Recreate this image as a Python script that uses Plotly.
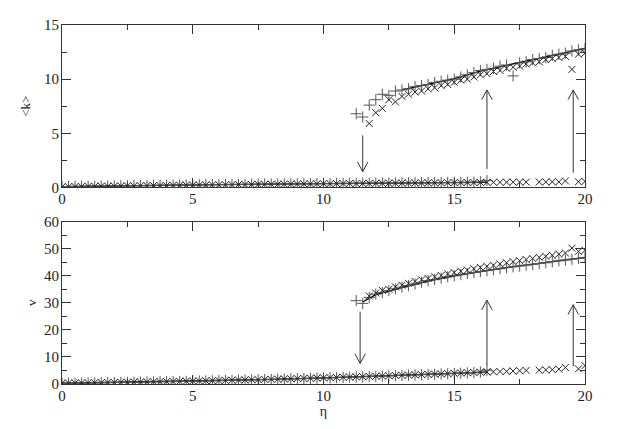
import plotly.graph_objects as go

# ---------------- data ----------------
ETA_LOW = [0.0, 0.25, 0.5, 0.75, 1.0, 1.25, 1.5, 1.75, 2.0, 2.25,
           2.5, 2.75, 3.0, 3.25, 3.5, 3.75, 4.0, 4.25, 4.5, 4.75,
           5.0, 5.25, 5.5, 5.75, 6.0, 6.25, 6.5, 6.75, 7.0, 7.25,
           7.5, 7.75, 8.0, 8.25, 8.5, 8.75, 9.0, 9.25, 9.5, 9.75,
           10.0, 10.25, 10.5, 10.75, 11.0, 11.25, 11.5, 11.75, 12.0, 12.25,
           12.5, 12.75, 13.0, 13.25, 13.5, 13.75, 14.0, 14.25, 14.5, 14.75,
           15.0, 15.25, 15.5, 15.75, 16.0, 16.25]
ETA_X_TAIL = [16.5, 16.75, 17.0, 17.25, 17.5, 17.75, 18.25, 18.5, 18.75, 19.0, 19.25, 19.75, 20.0]
ETA_UP_PLUS = [11.25, 11.5, 11.75, 12.0, 12.25, 12.5, 12.75, 13.0, 13.25, 13.5, 13.75, 14.0,
               14.25, 14.5, 14.75, 15.0, 15.25, 15.5, 15.75, 16.0, 16.25, 16.5, 16.75, 17.0,
               17.25, 17.5, 17.75, 18.0, 18.25, 18.5, 18.75, 19.0, 19.25, 19.5, 19.75, 20.0]
ETA_UP_X = [11.75, 12.0, 12.25, 12.5, 12.75, 13.0, 13.25, 13.5, 13.75, 14.0,
            14.25, 14.5, 14.75, 15.0, 15.25, 15.5, 15.75, 16.0, 16.25, 16.5, 16.75, 17.0,
            17.25, 17.5, 17.75, 18.0, 18.25, 18.5, 18.75, 19.0, 19.25, 19.5, 19.75, 20.0]
ETA_LINE_LOW = [0, 2, 4, 6, 8, 10, 12, 14, 16.25]
ETA_LINE_UP_K = [13, 14, 15, 16, 17, 18, 19, 20]
ETA_LINE_UP_V = [11.5, 12, 13, 14, 15, 16, 17, 18, 19, 20]

# <k> (top panel)
K_LOW_X = [0.05, 0.06, 0.07, 0.08, 0.09, 0.10, 0.10, 0.11, 0.12, 0.13,
           0.14, 0.14, 0.15, 0.16, 0.17, 0.17, 0.18, 0.19, 0.20, 0.20,
           0.21, 0.22, 0.22, 0.23, 0.24, 0.24, 0.25, 0.26, 0.26, 0.27,
           0.28, 0.28, 0.29, 0.29, 0.30, 0.31, 0.31, 0.32, 0.32, 0.33,
           0.34, 0.34, 0.35, 0.35, 0.36, 0.36, 0.37, 0.37, 0.38, 0.38,
           0.39, 0.39, 0.40, 0.40, 0.41, 0.41, 0.42, 0.42, 0.43, 0.43,
           0.44, 0.44, 0.45, 0.45, 0.46, 0.46]
K_LOW_PLUS = [0.07, 0.08, 0.09, 0.10, 0.11, 0.12, 0.12, 0.13, 0.14, 0.15,
              0.16, 0.16, 0.17, 0.18, 0.19, 0.19, 0.20, 0.21, 0.22, 0.22,
              0.23, 0.24, 0.24, 0.25, 0.26, 0.26, 0.27, 0.28, 0.28, 0.29,
              0.30, 0.30, 0.31, 0.31, 0.32, 0.33, 0.33, 0.34, 0.34, 0.35,
              0.36, 0.36, 0.37, 0.37, 0.38, 0.38, 0.39, 0.39, 0.40, 0.40,
              0.41, 0.41, 0.42, 0.42, 0.43, 0.43, 0.44, 0.44, 0.45, 0.45,
              0.46, 0.46, 0.47, 0.48, 0.50, 0.62]
K_X_TAIL = [0.47, 0.47, 0.48, 0.48, 0.49, 0.49, 0.50, 0.50, 0.51, 0.51, 0.60, 0.52, 0.55]
K_UP_PLUS = [6.8, 6.5, 7.6, 8.1, 8.6, 8.5, 8.9, 9.0, 9.1, 9.3, 9.4, 9.5,
             9.7, 9.8, 9.9, 10.0, 10.2, 10.4, 10.6, 10.8, 10.9, 11.0, 11.2, 11.3,
             10.3, 11.5, 11.6, 11.8, 11.9, 12.0, 12.2, 12.3, 12.4, 12.6, 12.7, 12.8]
K_UP_X = [5.9, 6.9, 7.3, 8.1, 7.9, 8.4, 8.6, 8.8, 8.9, 9.1,
          9.2, 9.4, 9.5, 9.7, 9.9, 10.0, 10.2, 10.4, 10.5, 10.7, 10.8, 11.0,
          11.1, 11.2, 11.4, 11.5, 11.6, 11.8, 11.9, 12.0, 12.1, 10.9, 12.3, 12.4]
K_LINE_LOW = [0.06, 0.14, 0.19, 0.25, 0.30, 0.35, 0.39, 0.43, 0.47]
K_LINE_UP = [9.0, 9.5, 10.05, 10.75, 11.3, 11.8, 12.3, 12.85]

# v (bottom panel)
V_LOW_X = [0.30, 0.33, 0.36, 0.40, 0.43, 0.47, 0.50, 0.54, 0.57, 0.61,
           0.65, 0.69, 0.73, 0.77, 0.81, 0.85, 0.89, 0.94, 0.98, 1.03,
           1.08, 1.13, 1.18, 1.23, 1.28, 1.34, 1.39, 1.45, 1.50, 1.56,
           1.62, 1.68, 1.74, 1.80, 1.86, 1.93, 2.00, 2.06, 2.13, 2.20,
           2.27, 2.34, 2.41, 2.49, 2.56, 2.64, 2.72, 2.80, 2.88, 2.96,
           3.04, 3.13, 3.21, 3.30, 3.39, 3.48, 3.57, 3.66, 3.76, 3.85,
           3.95, 4.05, 4.15, 4.25, 4.36, 4.46]
V_LOW_PLUS = [0.25, 0.28, 0.31, 0.35, 0.38, 0.42, 0.45, 0.49, 0.52, 0.56,
              0.60, 0.64, 0.68, 0.72, 0.76, 0.80, 0.84, 0.89, 0.93, 0.98,
              1.03, 1.08, 1.13, 1.18, 1.23, 1.29, 1.34, 1.40, 1.45, 1.51,
              1.57, 1.63, 1.69, 1.75, 1.81, 1.88, 1.95, 2.01, 2.08, 2.15,
              2.22, 2.29, 2.36, 2.44, 2.51, 2.59, 2.67, 2.75, 2.83, 2.91,
              2.99, 3.08, 3.16, 3.25, 3.34, 3.43, 3.52, 3.61, 3.71, 3.80,
              3.90, 4.00, 4.10, 4.20, 4.40, 5.10]
V_X_TAIL = [4.5, 4.6, 4.7, 4.8, 4.9, 5.0, 5.1, 5.2, 5.3, 5.5, 6.1, 5.6, 6.8]
V_UP_PLUS = [30.8, 29.8, 32.0, 33.2, 33.8, 34.5, 35.2, 35.8, 36.4, 37.0, 37.6, 38.2,
             38.6, 39.1, 39.6, 40.0, 40.4, 40.8, 41.2, 41.6, 41.9, 42.3, 42.6, 43.0,
             43.3, 43.6, 43.9, 44.2, 44.5, 44.8, 45.2, 45.5, 45.8, 46.1, 46.4, 46.7]
V_UP_X = [32.5, 33.6, 34.6, 35.0, 35.9, 36.5, 37.2, 37.9, 38.5, 39.0,
          39.6, 40.1, 40.7, 41.2, 41.7, 42.1, 42.6, 43.1, 43.5, 43.9, 44.4, 44.8,
          45.2, 45.6, 46.0, 46.4, 46.8, 47.2, 47.6, 48.0, 48.4, 50.2, 49.0, 49.4]
V_LINE_LOW = [0.28, 0.62, 0.92, 1.30, 1.74, 2.25, 2.85, 3.55, 4.40]
V_LINE_UP = [30.3, 33.0, 35.6, 38.0, 40.0, 41.6, 43.0, 44.3, 45.6, 46.8]

# arrows: (eta, start, tip)
ARROWS_K = [(11.5, 4.8, 1.45), (16.25, 1.7, 9.0), (19.55, 1.35, 9.0)]
ARROWS_V = [(11.4, 26.7, 7.6), (16.25, 6.9, 31.0), (19.55, 6.5, 29.3)]

X_TICKS = [0, 5, 10, 15, 20]
K_TICKS = [0, 5, 10, 15]
V_TICKS = [0, 10, 20, 30, 40, 50, 60]

# ---------------- figure ----------------
FONT = "Liberation Serif, Times New Roman, serif"
fig = go.Figure()

plus_style = dict(symbol="cross-thin-open", size=8, line=dict(width=1, color="#555555"), color="#555555")
x_style = dict(symbol="x-thin-open", size=7, line=dict(width=1, color="#222222"), color="#222222")


def add_panel(yaxis, low_plus, low_x, x_tail, up_plus, up_x, eta_line_up, line_low, line_up, arrows, head_dy):
    xa = "x" if yaxis == "y" else "x2"
    kw = dict(xaxis=xa, yaxis=yaxis, showlegend=False, hoverinfo="skip")
    fig.add_trace(go.Scatter(x=ETA_LINE_LOW, y=line_low, mode="lines",
                             line=dict(color="black", width=1.3), **kw))
    fig.add_trace(go.Scatter(x=eta_line_up, y=line_up, mode="lines",
                             line=dict(color="black", width=1.3), **kw))
    fig.add_trace(go.Scatter(x=ETA_LOW, y=low_plus, mode="markers", marker=plus_style, **kw))
    fig.add_trace(go.Scatter(x=ETA_UP_PLUS, y=up_plus, mode="markers", marker=plus_style, **kw))
    fig.add_trace(go.Scatter(x=ETA_LOW + ETA_X_TAIL, y=low_x + x_tail, mode="markers", marker=x_style, **kw))
    fig.add_trace(go.Scatter(x=ETA_UP_X, y=up_x, mode="markers", marker=x_style, **kw))
    dx = 0.2
    for eta, y0, y1 in arrows:
        d = head_dy if y1 > y0 else -head_dy
        fig.add_trace(go.Scatter(x=[eta, eta, None, eta - dx, eta, eta + dx],
                                 y=[y0, y1, None, y1 - d, y1, y1 - d],
                                 mode="lines", line=dict(color="#333333", width=1), **kw))


add_panel("y", K_LOW_PLUS, K_LOW_X, K_X_TAIL, K_UP_PLUS, K_UP_X, ETA_LINE_UP_K,
          K_LINE_LOW, K_LINE_UP, ARROWS_K, 0.9)
add_panel("y2", V_LOW_PLUS, V_LOW_X, V_X_TAIL, V_UP_PLUS, V_UP_X, ETA_LINE_UP_V,
          V_LINE_LOW, V_LINE_UP, ARROWS_V, 3.6)

tickfont = dict(family=FONT, size=15, color="#222222")
axis_common = dict(showline=True, linecolor="#333333", linewidth=1, mirror="ticks",
                   ticks="inside", ticklen=9, tickcolor="#333333", tickwidth=1,
                   showgrid=False, zeroline=False, tickfont=tickfont)

fig.update_layout(
    width=623, height=429,
    margin=dict(l=54, r=46, t=9, b=53),
    paper_bgcolor="white", plot_bgcolor="white",
    xaxis=dict(domain=[0, 1], range=[0, 20], anchor="y", tickvals=X_TICKS,
               ticklabelstandoff=-2,
               minor=dict(dtick=2.5, ticklen=5, ticks="inside", tickcolor="#333333"),
               **axis_common),
    yaxis=dict(domain=[0.5477, 1], range=[0, 15], anchor="x", tickvals=K_TICKS,
               ticklabelstandoff=-1,
               minor=dict(dtick=2.5, ticklen=5, ticks="inside", tickcolor="#333333"),
               title=dict(text="&lt;k&gt;", font=dict(family=FONT, size=13, color="#222222"), standoff=10),
               **axis_common),
    xaxis2=dict(domain=[0, 1], range=[0, 20], anchor="y2", tickvals=X_TICKS,
                ticklabelstandoff=-2,
                minor=dict(dtick=2.5, ticklen=5, ticks="inside", tickcolor="#333333"),
                title=dict(text="η", font=dict(family=FONT, size=14, color="#222222"), standoff=0),
                **axis_common),
    yaxis2=dict(domain=[0, 0.4523], range=[0, 60], anchor="x2", tickvals=V_TICKS,
                ticklabelstandoff=-1,
                minor=dict(dtick=5, ticklen=5, ticks="inside", tickcolor="#333333"),
                title=dict(text="v", font=dict(family=FONT, size=13, color="#222222"), standoff=4),
                **axis_common),
)

fig.write_html("out.html")
